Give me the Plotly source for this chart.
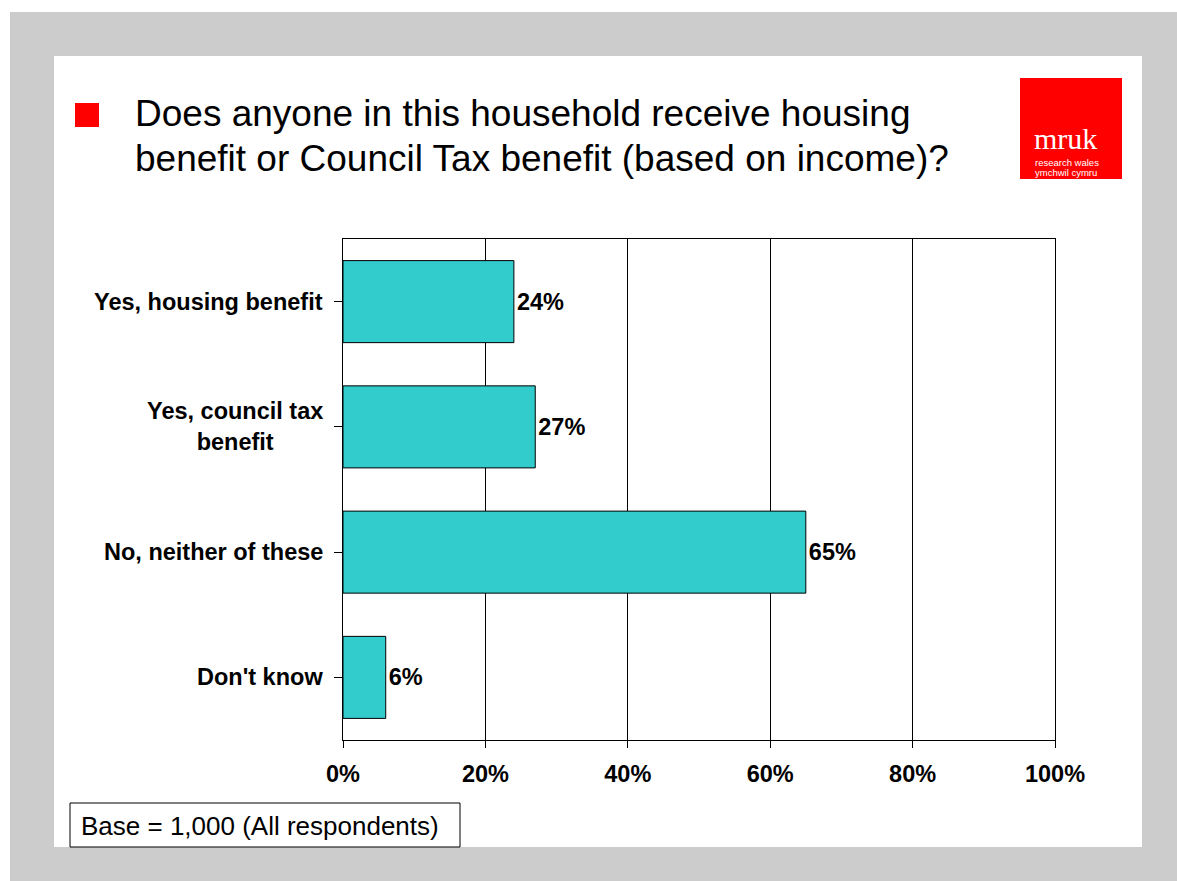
import plotly.graph_objects as go

# Survey answers and shares (%)
categories = ["Yes, housing benefit", "Yes, council tax<br>benefit", "No, neither of these", "Don't know"]
values = [24, 27, 65, 6]
tick_values = [0, 20, 40, 60, 80, 100]
tick_labels = ["0%", "20%", "40%", "60%", "80%", "100%"]

W, H = 1177, 881
FONT = "Liberation Sans, Arial, sans-serif"
BOLD = 23.5


def px(x):
    return x / W


def py(y):
    return 1 - y / H


fig = go.Figure()

fig.add_trace(go.Bar(
    x=values,
    y=list(range(len(categories))),
    orientation="h",
    marker=dict(color="#33CCCC", line=dict(color="black", width=1)),
    text=[f"{v}%" for v in values],
    textposition="outside",
    textfont=dict(family=FONT, size=BOLD, color="black", weight="bold"),
    cliponaxis=False,
    hoverinfo="skip",
))

shapes = [
    # grey slide frame and white slide body
    dict(type="rect", xref="paper", yref="paper", x0=px(10), x1=px(1177), y0=py(881), y1=py(12),
         fillcolor="#CCCCCC", line=dict(width=0), layer="below"),
    dict(type="rect", xref="paper", yref="paper", x0=px(54), x1=px(1142), y0=py(847), y1=py(56),
         fillcolor="white", line=dict(width=0), layer="below"),
    # title bullet
    dict(type="rect", xref="paper", yref="paper", x0=px(75), x1=px(99), y0=py(127), y1=py(103),
         fillcolor="#FF0000", line=dict(width=0)),
    # logo block
    dict(type="rect", xref="paper", yref="paper", x0=px(1020), x1=px(1122), y0=py(179), y1=py(78),
         fillcolor="#FF0000", line=dict(width=0)),
    # base note box
    dict(type="rect", xref="paper", yref="paper", x0=px(70), x1=px(460), y0=py(847), y1=py(803),
         fillcolor="white", line=dict(color="black", width=1)),
]

annotations = [
    dict(text="Does anyone in this household receive housing", x=px(134), y=py(113),
         xanchor="left", yanchor="middle", font=dict(family=FONT, size=37, color="black")),
    dict(text="benefit or Council Tax benefit (based on income)?", x=px(134), y=py(159),
         xanchor="left", yanchor="middle", font=dict(family=FONT, size=37, color="black")),
    dict(text="mruk", x=px(1033), y=py(139), xanchor="left", yanchor="middle",
         font=dict(family="Liberation Serif, Times New Roman, serif", size=30, color="white")),
    dict(text="research wales", x=px(1034), y=py(162), xanchor="left", yanchor="middle",
         font=dict(family=FONT, size=9.5, color="white")),
    dict(text="ymchwil cymru", x=px(1034), y=py(172), xanchor="left", yanchor="middle",
         font=dict(family=FONT, size=9.5, color="white")),
    dict(text="Base = 1,000 (All respondents)", x=px(80), y=py(826), xanchor="left", yanchor="middle",
         font=dict(family=FONT, size=26, color="black")),
]

# category labels, right-aligned against the axis, lines centred
for i, cat in enumerate(categories):
    annotations.append(dict(
        text=cat, x=px(324), y=i, yref="y",
        xanchor="right", yanchor="middle", align="center",
        font=dict(family=FONT, size=BOLD, color="black", weight="bold"),
    ))

for a in annotations:
    a.setdefault("xref", "paper")
    a.setdefault("yref", "paper")
    a.setdefault("showarrow", False)
    a.setdefault("borderpad", 0)

fig.update_layout(
    width=W, height=H,
    margin=dict(l=0, r=0, t=0, b=0, pad=0, autoexpand=False),
    paper_bgcolor="white",
    plot_bgcolor="white",
    showlegend=False,
    bargap=0.345,
    shapes=shapes,
    annotations=annotations,
    xaxis=dict(
        domain=[px(343), px(1055)],
        range=[0, 100],
        automargin=False,
        tickvals=tick_values, ticktext=tick_labels,
        tickfont=dict(family=FONT, size=BOLD, color="black", weight="bold"),
        ticks="outside", ticklen=7, tickcolor="black",
        ticklabelstandoff=6,
        showgrid=True, gridcolor="black", gridwidth=1,
        showline=True, linecolor="black", linewidth=1, mirror=True,
        zeroline=False, fixedrange=True,
    ),
    yaxis=dict(
        domain=[py(740), py(239)],
        range=[3.5, -0.5],
        automargin=False,
        tickvals=list(range(len(categories))),
        showticklabels=False,
        tickson="boundaries",
        ticks="outside", ticklen=8, tickcolor="black",
        showgrid=False,
        showline=True, linecolor="black", linewidth=1, mirror=True,
        zeroline=False, fixedrange=True,
    ),
)

# page without body margin so the figure fills the window exactly
page_style = "document.body.style.margin='0';document.body.style.overflow='hidden';"
fig.write_html("out.html", post_script=page_style, config={"displayModeBar": False})
